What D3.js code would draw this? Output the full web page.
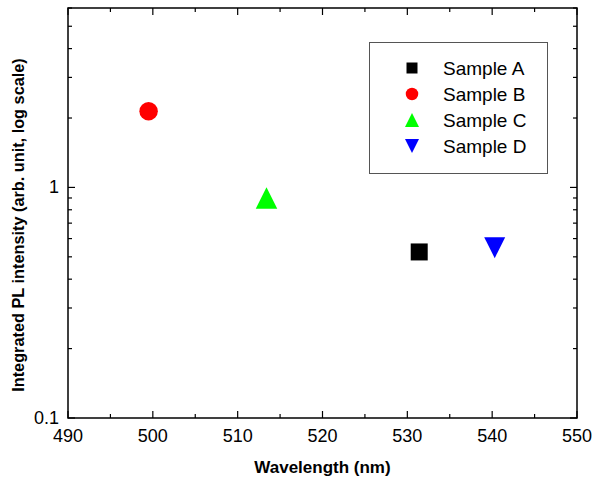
<!DOCTYPE html>
<html><head><meta charset="utf-8">
<script src="https://cdn.jsdelivr.net/npm/d3@7"></script>
<style>body{margin:0;background:#fff}svg{display:block}text{font-family:Arial,"Liberation Sans",sans-serif}</style>
</head><body>
<script>
const samples = ["Sample A", "Sample B", "Sample C", "Sample D"];
const wavelengths = [531.4, 499.5, 513.4, 540.3];
const intensities = [0.525, 2.14, 0.90, 0.548];
const colors = ["#000000", "#ff0000", "#00ff00", "#0000ff"];
const shapes = ["square", "circle", "triangle", "triangleDown"];
const xTicks = [490, 500, 510, 520, 530, 540, 550];
const xMinor = [495, 505, 515, 525, 535, 545];
const yTicks = [0.1, 1];
const yMinor = [0.2,0.3,0.4,0.5,0.6,0.7,0.8,0.9,2,3,4,5,6];

const W = 595, H = 477;
const m = {l: 68, r: 577, t: 8, b: 418};
const svg = d3.select("body").append("svg").attr("width", W).attr("height", H);
const x = d3.scaleLinear().domain([490, 550]).range([m.l, m.r]);
const y = d3.scaleLog().domain([0.1, 6]).range([m.b, m.t]);

function shapePath(s, size) {
  const h = size / 2;
  if (s === "square") return `M${-h},${-h}H${h}V${h}H${-h}Z`;
  if (s === "circle") return d3.symbol(d3.symbolCircle, Math.PI * h * h)();
  if (s === "triangle") return `M0,${-h}L${h},${h}L${-h},${h}Z`;
  return `M0,${h}L${h},${-h}L${-h},${-h}Z`;
}

// ticks (inward, mirrored)
const g = svg.append("g").attr("stroke", "#000").attr("stroke-width", 1.2);
const major = 7, minor = 4;
xTicks.forEach(v => {
  g.append("line").attr("x1", x(v)).attr("x2", x(v)).attr("y1", m.b).attr("y2", m.b - major);
  g.append("line").attr("x1", x(v)).attr("x2", x(v)).attr("y1", m.t).attr("y2", m.t + major);
});
xMinor.forEach(v => {
  g.append("line").attr("x1", x(v)).attr("x2", x(v)).attr("y1", m.b).attr("y2", m.b - minor);
  g.append("line").attr("x1", x(v)).attr("x2", x(v)).attr("y1", m.t).attr("y2", m.t + minor);
});
yTicks.forEach(v => {
  g.append("line").attr("y1", y(v)).attr("y2", y(v)).attr("x1", m.l).attr("x2", m.l + major);
  g.append("line").attr("y1", y(v)).attr("y2", y(v)).attr("x1", m.r).attr("x2", m.r - major);
});
yMinor.forEach(v => {
  g.append("line").attr("y1", y(v)).attr("y2", y(v)).attr("x1", m.l).attr("x2", m.l + minor);
  g.append("line").attr("y1", y(v)).attr("y2", y(v)).attr("x1", m.r).attr("x2", m.r - minor);
});

svg.append("rect").attr("x", m.l).attr("y", m.t).attr("width", m.r - m.l).attr("height", m.b - m.t)
  .attr("fill", "none").attr("stroke", "#000").attr("stroke-width", 1.5);

// tick labels
svg.append("g").selectAll("text").data(xTicks).join("text")
  .attr("x", d => x(d)).attr("y", 442).attr("text-anchor", "middle")
  .attr("font-size", 18).attr("fill", "#000").text(d => d);
svg.append("g").selectAll("text").data(yTicks).join("text")
  .attr("x", 59).attr("y", d => y(d) + 6).attr("text-anchor", "end")
  .attr("font-size", 18).attr("fill", "#000").text(d => d);

// axis titles
svg.append("text").attr("x", (m.l + m.r) / 2).attr("y", 473).attr("text-anchor", "middle")
  .attr("font-size", 17).attr("font-weight", "bold").text("Wavelength (nm)");
svg.append("text").attr("transform", `translate(23.5,225) rotate(-90)`)
  .attr("text-anchor", "middle").attr("font-size", 16.3).attr("font-weight", "bold")
  .text("Integrated PL intensity (arb. unit, log scale)");

// data points
const pointSizes = {square: 17, circle: 18.5, triangle: 21.5, triangleDown: 21};
svg.append("g").selectAll("path").data(samples).join("path")
  .attr("transform", (d, i) => `translate(${x(wavelengths[i])},${y(intensities[i])})`)
  .attr("d", (d, i) => shapePath(shapes[i], pointSizes[shapes[i]]))
  .attr("fill", (d, i) => colors[i]);

// legend
const lg = svg.append("g");
lg.append("rect").attr("x", 369.5).attr("y", 42.5).attr("width", 178).attr("height", 131)
  .attr("fill", "#fff").attr("stroke", "#555").attr("stroke-width", 1);
const legendSizes = {square: 11, circle: 12.5, triangle: 14, triangleDown: 14};
samples.forEach((s, i) => {
  const cy = 68 + i * 26;
  lg.append("path").attr("transform", `translate(412,${cy})`)
    .attr("d", shapePath(shapes[i], legendSizes[shapes[i]])).attr("fill", colors[i]);
  lg.append("text").attr("x", 443).attr("y", cy + 7).attr("font-size", 19).attr("fill", "#000").text(s);
});
</script>
</body></html>
